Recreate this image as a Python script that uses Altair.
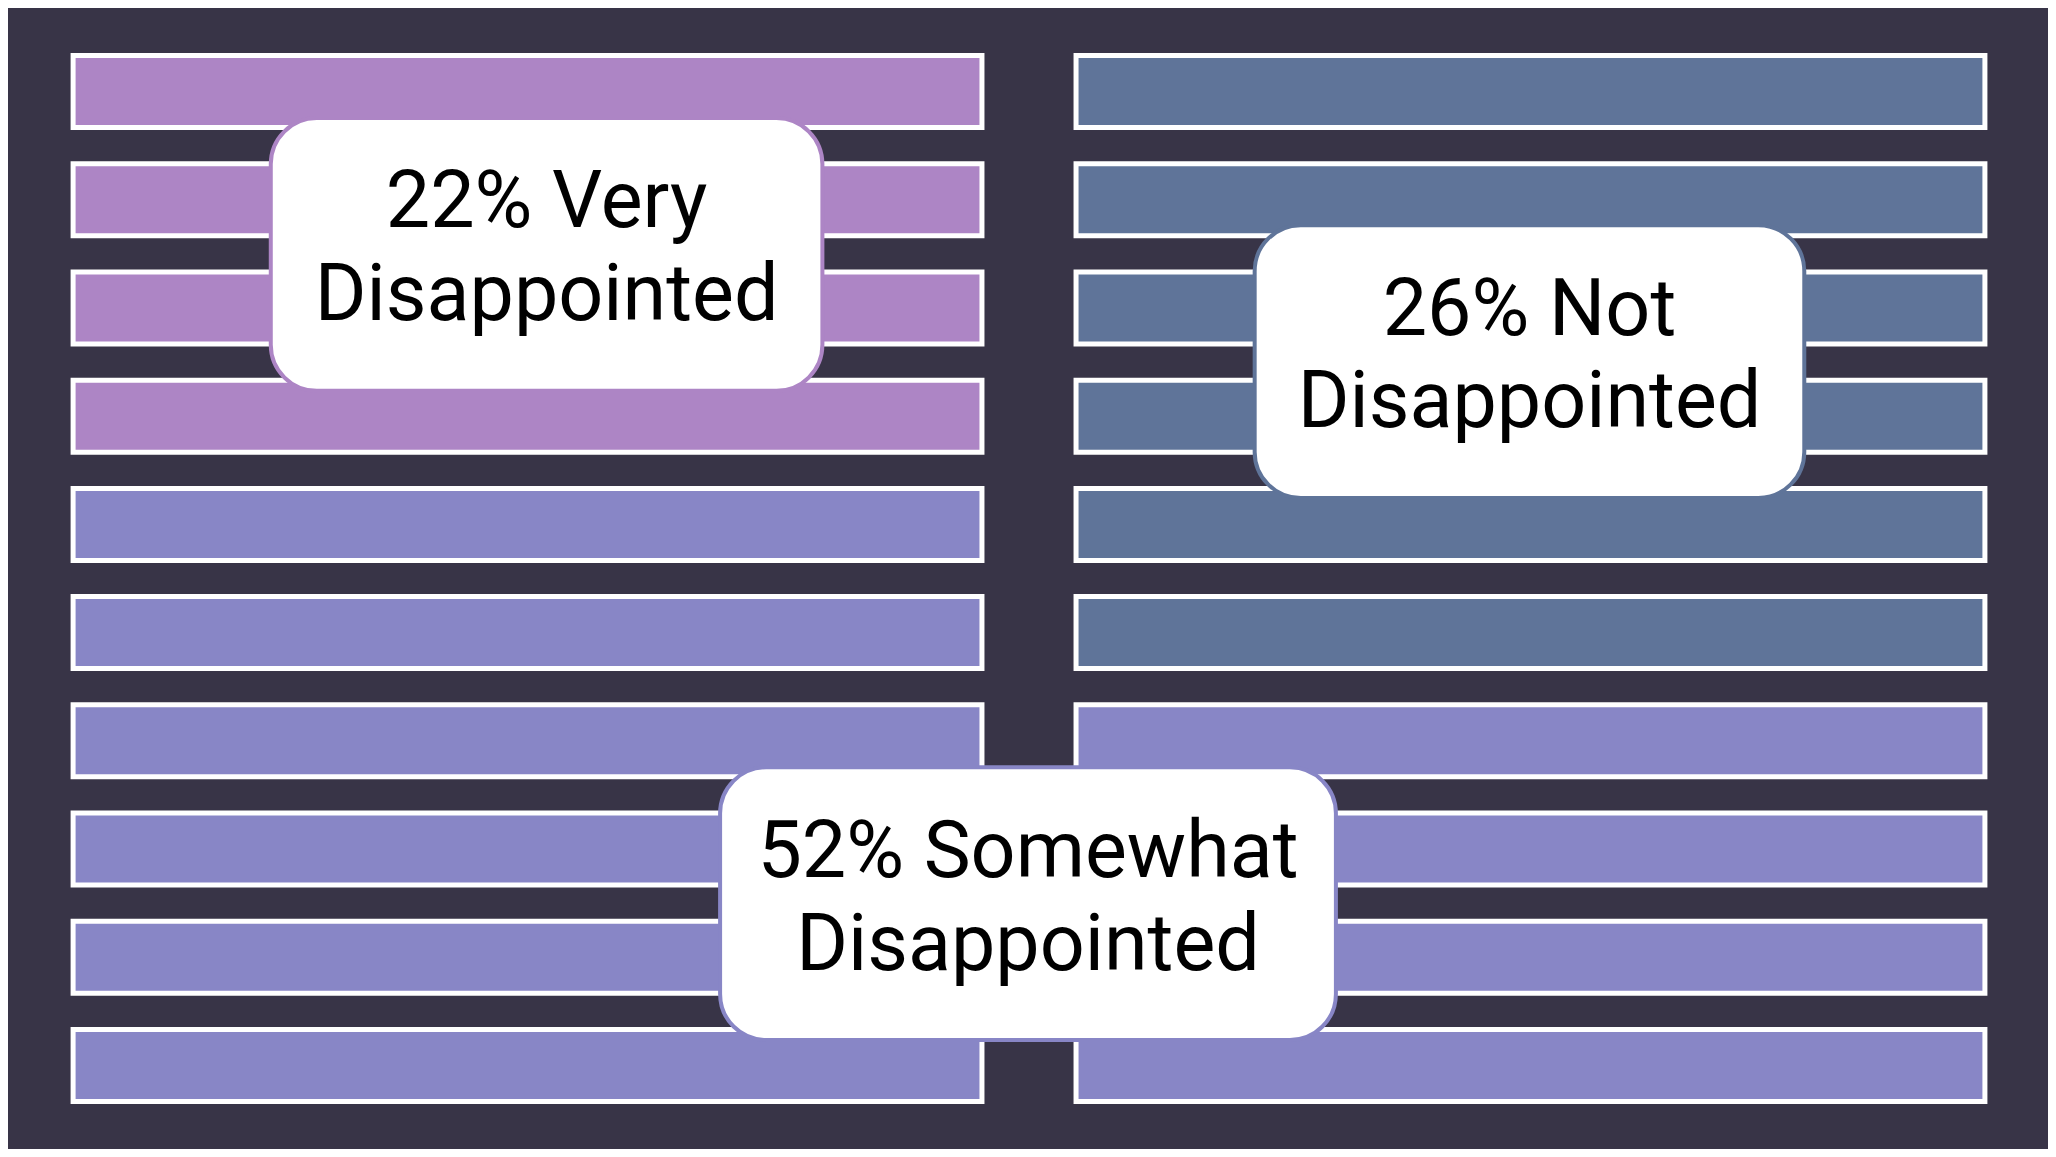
import altair as alt
import pandas as pd

# ---- data ----
rows = list(range(10))
left_categories = ["Very Disappointed"] * 4 + ["Somewhat Disappointed"] * 6
right_categories = ["Not Disappointed"] * 6 + ["Somewhat Disappointed"] * 4

categories = ["Very Disappointed", "Somewhat Disappointed", "Not Disappointed"]
category_colors = ["#AD85C5", "#8886C6", "#5F7499"]

# label boxes (x in column units: 0 = left column centre, 1 = right column centre;
# y in row units: 0 = first row centre)
box_category = ["Very Disappointed", "Not Disappointed", "Somewhat Disappointed"]
box_x0 = [-0.256, 0.725, 0.192]
box_x1 = [0.294, 1.273, 0.806]
box_y0 = [0.245, 1.235, 6.245]
box_y1 = [2.765, 3.755, 8.765]
box_line1 = ["22% Very", "26% Not", "52% Somewhat"]
box_line2 = ["Disappointed", "Disappointed", "Disappointed"]
box_line1_y = [1.25, 2.25, 7.26]
box_line2_y = [2.11, 3.10, 8.12]

# ---- tables ----
bars_df = pd.DataFrame({
    "col": [0] * 10 + [1] * 10,
    "row": rows + rows,
    "category": left_categories + right_categories,
})
boxes_df = pd.DataFrame({
    "category": box_category,
    "x0": box_x0, "x1": box_x1, "y0": box_y0, "y1": box_y1,
    "cx": [(a + b) / 2 for a, b in zip(box_x0, box_x1)],
})
text_df = pd.DataFrame({
    "cx": list(boxes_df["cx"]) * 2,
    "ty": box_line1_y + box_line2_y,
    "label": box_line1 + box_line2,
})

W, H = 2040, 1141
xs = alt.Scale(domain=[-0.518, 1.516], nice=False, zero=False)
ys = alt.Scale(domain=[-0.7726, 9.7726], nice=False, zero=False, reverse=True)
color = alt.Scale(domain=categories, range=category_colors)

HALF_W = 0.4531
HALF_H = 0.3327

bars = alt.Chart(bars_df).transform_calculate(
    xa=f"datum.col - {HALF_W}", xb=f"datum.col + {HALF_W}",
    ya=f"datum.row - {HALF_H}", yb=f"datum.row + {HALF_H}",
).mark_rect(stroke="white", strokeWidth=5).encode(
    x=alt.X("xa:Q", scale=xs, axis=None),
    x2="xb:Q",
    y=alt.Y("ya:Q", scale=ys, axis=None),
    y2="yb:Q",
    color=alt.Color("category:N", scale=color, legend=None),
)

boxes = alt.Chart(boxes_df).mark_rect(fill="white", strokeWidth=4, cornerRadius=46).encode(
    x=alt.X("x0:Q", scale=xs, axis=None),
    x2="x1:Q",
    y=alt.Y("y0:Q", scale=ys, axis=None),
    y2="y1:Q",
    stroke=alt.Stroke("category:N", scale=color, legend=None),
)

texts = alt.Chart(text_df).mark_text(
    font="Roboto", fontSize=79, color="black", align="center", baseline="alphabetic"
).encode(
    x=alt.X("cx:Q", scale=xs, axis=None),
    y=alt.Y("ty:Q", scale=ys, axis=None),
    text="label:N",
)

chart = alt.layer(bars, boxes, texts).properties(
    width=W, height=H, background="#383447", padding=0,
    autosize=alt.AutoSizeParams(type="none"),
).configure_view(stroke="transparent")

chart.save("out.html", embed_options={"renderer": "svg", "actions": False})
